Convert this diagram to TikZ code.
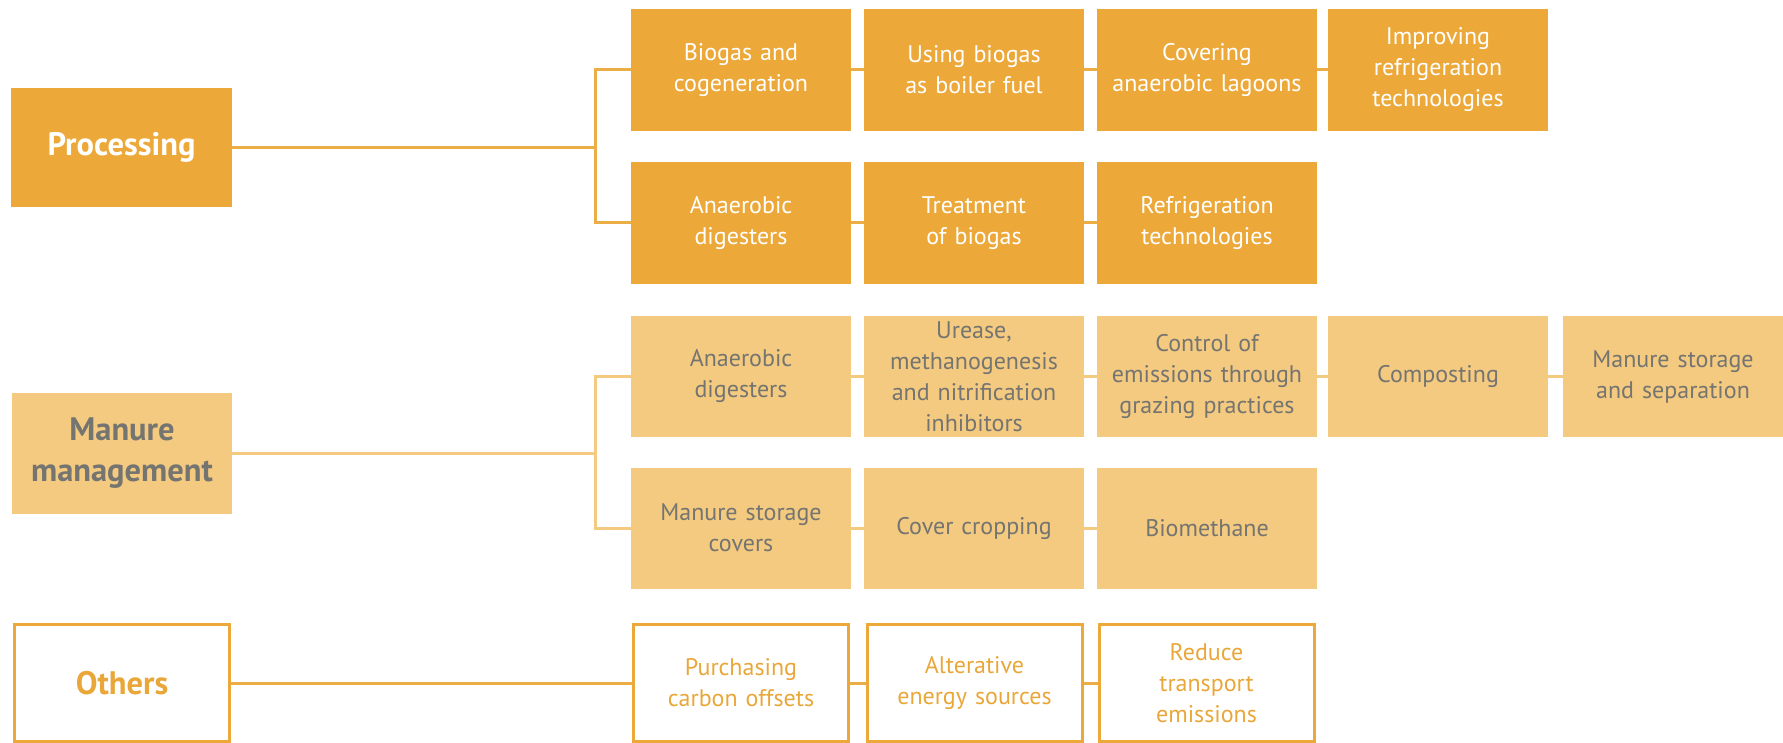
\documentclass[tikz,border=0pt]{standalone}
\usepackage{fontspec}
\setmainfont{PT Sans}
\definecolor{procC}{HTML}{ECA93A}
\definecolor{lineP}{HTML}{EBAE46}
\definecolor{manC}{HTML}{F4CA80}
\definecolor{manT}{HTML}{747470}
\definecolor{othT}{HTML}{E9A73A}
\tikzset{
  base/.style={rectangle, inner sep=0pt, align=center, text width=212pt, font=\fontsize{24}{31}\selectfont},
  pbox/.style={base, fill=procC, text=white, minimum width=220pt, minimum height=122pt},
  mbox/.style={base, fill=manC, text=manT, minimum width=220pt, minimum height=121pt},
  obox/.style={base, draw=procC, line width=3pt, text=othT, minimum width=215pt, minimum height=117pt},
  mainfont/.style={font=\fontsize{32.5}{41}\selectfont\bfseries},
  plink/.style={draw=lineP, line width=3pt},
  mlink/.style={draw=manC, line width=3pt},
}
\begin{document}
\begin{tikzpicture}[x=1pt, y=-1pt]
\useasboundingbox (0,0) rectangle (1783,743);
% main boxes
\node[pbox, mainfont, minimum width=221pt, minimum height=119pt] (P) at (121.5,147.5) {Processing};
\node[mbox, mainfont, minimum width=220pt, minimum height=121pt] (M) at (122,453.5) {Manure\\management};
\node[obox, mainfont, minimum width=215pt, minimum height=117pt] (O) at (122,683) {Others};
% processing row 1
\node[pbox] (P11) at (741,70) {Biogas and\\cogeneration};
\node[pbox] (P12) at (974,70) {Using biogas\\as boiler fuel};
\node[pbox] (P13) at (1207,70) {Covering\\anaerobic lagoons};
\node[pbox] (P14) at (1438,70) {Improving\\refrigeration\\technologies};
% processing row 2
\node[pbox] (P21) at (741,223) {Anaerobic\\digesters};
\node[pbox] (P22) at (974,223) {Treatment\\of biogas};
\node[pbox] (P23) at (1207,223) {Refrigeration\\technologies};
% manure row 1
\node[mbox] (M11) at (741,376.5) {Anaerobic\\digesters};
\node[mbox] (M12) at (974,376.5) {Urease,\\methanogenesis\\and nitrification\\inhibitors};
\node[mbox] (M13) at (1207,376.5) {Control of\\emissions through\\grazing practices};
\node[mbox] (M14) at (1438,376.5) {Composting};
\node[mbox] (M15) at (1673,376.5) {Manure storage\\and separation};
% manure row 2
\node[mbox] (M21) at (741,528) {Manure storage\\covers};
\node[mbox] (M22) at (974,528) {Cover cropping};
\node[mbox] (M23) at (1207,528) {Biomethane};
% others row
\node[obox] (O1) at (741,683) {Purchasing\\carbon offsets};
\node[obox] (O2) at (974.5,683) {Alterative\\energy sources};
\node[obox] (O3) at (1206.5,683) {Reduce\\transport\\emissions};
% junctions
\coordinate (pj) at (595,147.5);
\coordinate (mj) at (595,453.5);
% processing connectors
\draw[plink] (P.east) -- (pj);
\draw[plink] (P11.west) -| (pj) |- (P21.west);
\draw[plink] (P11.east) -- (P12.west);
\draw[plink] (P12.east) -- (P13.west);
\draw[plink] (P13.east) -- (P14.west);
\draw[plink] (P21.east) -- (P22.west);
\draw[plink] (P22.east) -- (P23.west);
% manure connectors
\draw[mlink] (M.east) -- (mj);
\draw[mlink] (M11.west) -| (mj) |- (M21.west);
\draw[mlink] (M11.east) -- (M12.west);
\draw[mlink] (M12.east) -- (M13.west);
\draw[mlink] (M13.east) -- (M14.west);
\draw[mlink] (M14.east) -- (M15.west);
\draw[mlink] (M21.east) -- (M22.west);
\draw[mlink] (M22.east) -- (M23.west);
% others connectors
\draw[plink] (O.east) -- (O1.west);
\draw[plink] (O1.east) -- (O2.west);
\draw[plink] (O2.east) -- (O3.west);
\end{tikzpicture}
\end{document}
